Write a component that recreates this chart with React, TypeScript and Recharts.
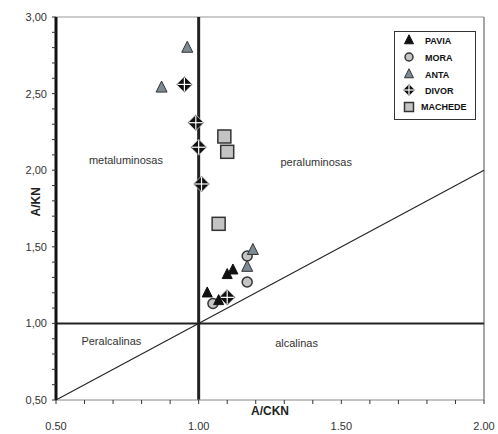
import {
  ReferenceDot,
  ReferenceLine,
  Scatter,
  ScatterChart,
  XAxis,
  YAxis,
} from "recharts";

// A/CKN (x) vs A/KN (y) per sampled body
const pavia = [
  { x: 1.1, y: 1.32 },
  { x: 1.12, y: 1.35 },
  { x: 1.03, y: 1.2 },
  { x: 1.07, y: 1.15 },
];
const mora = [
  { x: 1.17, y: 1.44 },
  { x: 1.17, y: 1.27 },
  { x: 1.05, y: 1.13 },
];
const anta = [
  { x: 0.96, y: 2.8 },
  { x: 0.87, y: 2.54 },
  { x: 1.19, y: 1.48 },
  { x: 1.17, y: 1.37 },
];
const divor = [
  { x: 0.95, y: 2.56 },
  { x: 0.99, y: 2.31 },
  { x: 1.0, y: 2.15 },
  { x: 1.01, y: 1.91 },
  { x: 1.1, y: 1.17 },
];
const machede = [
  { x: 1.09, y: 2.22 },
  { x: 1.1, y: 2.12 },
  { x: 1.07, y: 1.65 },
];

const xTicks = [0.5, 0.6, 0.7, 0.8, 0.9, 1.0, 1.1, 1.2, 1.3, 1.4, 1.5, 1.6, 1.7, 1.8, 1.9, 2.0];
const yTicks = [
  0.5, 0.6, 0.7, 0.8, 0.9, 1.0, 1.1, 1.2, 1.3, 1.4, 1.5, 1.6, 1.7, 1.8, 1.9, 2.0,
  2.1, 2.2, 2.3, 2.4, 2.5, 2.6, 2.7, 2.8, 2.9, 3.0,
];

const regionLabels = [
  { x: 0.745, y: 2.067, text: "metaluminosas" },
  { x: 1.412, y: 2.053, text: "peraluminosas" },
  { x: 0.694, y: 0.885, text: "Peralcalinas" },
  { x: 1.343, y: 0.872, text: "alcalinas" },
];

const FONT = "'Liberation Sans', Arial, sans-serif";

const isMajor = (v: number) => Math.abs(v * 2 - Math.round(v * 2)) < 1e-6;

// marker shapes
const Triangle = ({ cx, cy, s, fill, stroke }: any) => (
  <polygon
    points={`${cx},${cy - s * 0.58} ${cx - s / 2},${cy + s * 0.42} ${cx + s / 2},${cy + s * 0.42}`}
    fill={fill}
    stroke={stroke}
    strokeWidth={1}
  />
);

const Circle = ({ cx, cy, r }: any) => (
  <circle cx={cx} cy={cy} r={r} fill="#c4c4c4" stroke="#333" strokeWidth={1.5} />
);

const Diamond = ({ cx, cy, h }: any) => (
  <g>
    <polygon
      points={`${cx},${cy - h} ${cx + h},${cy} ${cx},${cy + h} ${cx - h},${cy}`}
      fill="#111"
      stroke="#ccc"
      strokeWidth={0.8}
    />
    <line x1={cx - h + 1} y1={cy} x2={cx + h - 1} y2={cy} stroke="#fff" strokeWidth={1.2} />
    <line x1={cx} y1={cy - h + 1} x2={cx} y2={cy + h - 1} stroke="#fff" strokeWidth={1.2} />
  </g>
);

const Square = ({ cx, cy, s }: any) => (
  <rect
    x={cx - s / 2}
    y={cy - s / 2}
    width={s}
    height={s}
    fill="#c4c4c4"
    stroke="#333"
    strokeWidth={1.5}
  />
);

const XTick = (props: any) => {
  const { x, y, payload } = props;
  if (!isMajor(payload.value)) return null;
  return (
    <text x={x} y={y + 24} textAnchor="middle" fontSize={11} fill="#333" fontFamily={FONT}>
      {payload.value.toFixed(2)}
    </text>
  );
};

const YTick = (props: any) => {
  const { x, y, payload } = props;
  if (!isMajor(payload.value)) return null;
  return (
    <text x={x - 3} y={y + 4} textAnchor="end" fontSize={11} fill="#333" fontFamily={FONT}>
      {payload.value.toFixed(2).replace(".", ",")}
    </text>
  );
};

const legendItems = [
  { name: "PAVIA", y: 9 },
  { name: "MORA", y: 26 },
  { name: "ANTA", y: 43 },
  { name: "DIVOR", y: 59 },
  { name: "MACHEDE", y: 75 },
];

const legendSymbol = (name: string, cx: number, cy: number) => {
  switch (name) {
    case "PAVIA":
      return <Triangle cx={cx} cy={cy} s={9} fill="#111" stroke="#111" />;
    case "MORA":
      return <Circle cx={cx} cy={cy} r={4} />;
    case "ANTA":
      return <Triangle cx={cx} cy={cy} s={9} fill="#7b8a93" stroke="#333" />;
    case "DIVOR":
      return <Diamond cx={cx} cy={cy} h={6} />;
    default:
      return <Square cx={cx} cy={cy + 1} s={9} />;
  }
};

const ChartLegend = () => (
  <svg width={82} height={89} style={{ position: "absolute", left: 394, top: 31 }}>
    <rect x={0.5} y={0.5} width={81} height={88} fill="#fff" stroke="#333" strokeWidth={1} />
    {legendItems.map((item) => (
      <g key={item.name}>
        {legendSymbol(item.name, 15, item.y)}
        <text
          x={item.name === "MACHEDE" ? 27 : 31}
          y={item.y + 3.5}
          fontSize={9}
          fontWeight="bold"
          fill="#111"
          fontFamily={FONT}
        >
          {item.name}
        </text>
      </g>
    ))}
  </svg>
);

export default function App() {
  return (
    <div
      style={{
        position: "absolute",
        left: 0,
        top: 0,
        width: 498,
        height: 434,
        background: "#fff",
        fontFamily: FONT,
      }}
    >
      <ScatterChart width={498} height={434} margin={{ top: 17, right: 14, bottom: 0, left: 0 }}>
        <XAxis
          type="number"
          dataKey="x"
          domain={[0.5, 2]}
          ticks={xTicks}
          interval={0}
          height={34}
          tick={<XTick />}
          tickSize={4}
          tickLine={{ stroke: "#333" }}
          axisLine={{ stroke: "#888", strokeWidth: 1 }}
          label={{
            value: "A/CKN",
            position: "insideTop",
            offset: 6,
            fontSize: 12,
            fontWeight: "bold",
            fill: "#222",
            fontFamily: FONT,
          }}
        />
        <YAxis
          type="number"
          dataKey="y"
          domain={[0.5, 3]}
          ticks={yTicks}
          interval={0}
          width={56}
          tick={<YTick />}
          tickSize={4}
          tickLine={{ stroke: "#333" }}
          axisLine={{ stroke: "#111", strokeWidth: 3 }}
          label={{
            value: "A/KN",
            angle: -90,
            position: "insideLeft",
            offset: 30,
            dx: 6,
            dy: 8,
            fontSize: 12,
            fontWeight: "bold",
            fill: "#222",
            fontFamily: FONT,
          }}
        />
        <ReferenceLine y={3} stroke="#999" strokeWidth={1} />
        <ReferenceLine x={2} stroke="#888" strokeWidth={1.5} />
        <ReferenceLine
          segment={[
            { x: 0.5, y: 0.5 },
            { x: 2, y: 2 },
          ]}
          stroke="#222"
          strokeWidth={1.1}
        />
        <ReferenceLine y={1} stroke="#222" strokeWidth={2} />
        <ReferenceLine x={1} stroke="#222" strokeWidth={3} />
        {regionLabels.map((r) => (
          <ReferenceDot
            key={r.text}
            x={r.x}
            y={r.y}
            r={0}
            shape={(p: any) => (
              <text
                x={p.cx}
                y={p.cy + 4}
                textAnchor="middle"
                fontSize={11}
                fill="#333"
                fontFamily={FONT}
              >
                {r.text}
              </text>
            )}
          />
        ))}
        <Scatter
          name="MACHEDE"
          data={machede}
          isAnimationActive={false}
          shape={(p: any) => <Square cx={p.cx} cy={p.cy} s={13} />}
        />
        <Scatter
          name="DIVOR"
          data={divor}
          isAnimationActive={false}
          shape={(p: any) => <Diamond cx={p.cx} cy={p.cy} h={8} />}
        />
        <Scatter
          name="MORA"
          data={mora}
          isAnimationActive={false}
          shape={(p: any) => <Circle cx={p.cx} cy={p.cy} r={5} />}
        />
        <Scatter
          name="ANTA"
          data={anta}
          isAnimationActive={false}
          shape={(p: any) => <Triangle cx={p.cx} cy={p.cy} s={11} fill="#7b8a93" stroke="#333" />}
        />
        <Scatter
          name="PAVIA"
          data={pavia}
          isAnimationActive={false}
          shape={(p: any) => <Triangle cx={p.cx} cy={p.cy} s={10} fill="#111" stroke="#111" />}
        />
      </ScatterChart>
      <ChartLegend />
    </div>
  );
}
